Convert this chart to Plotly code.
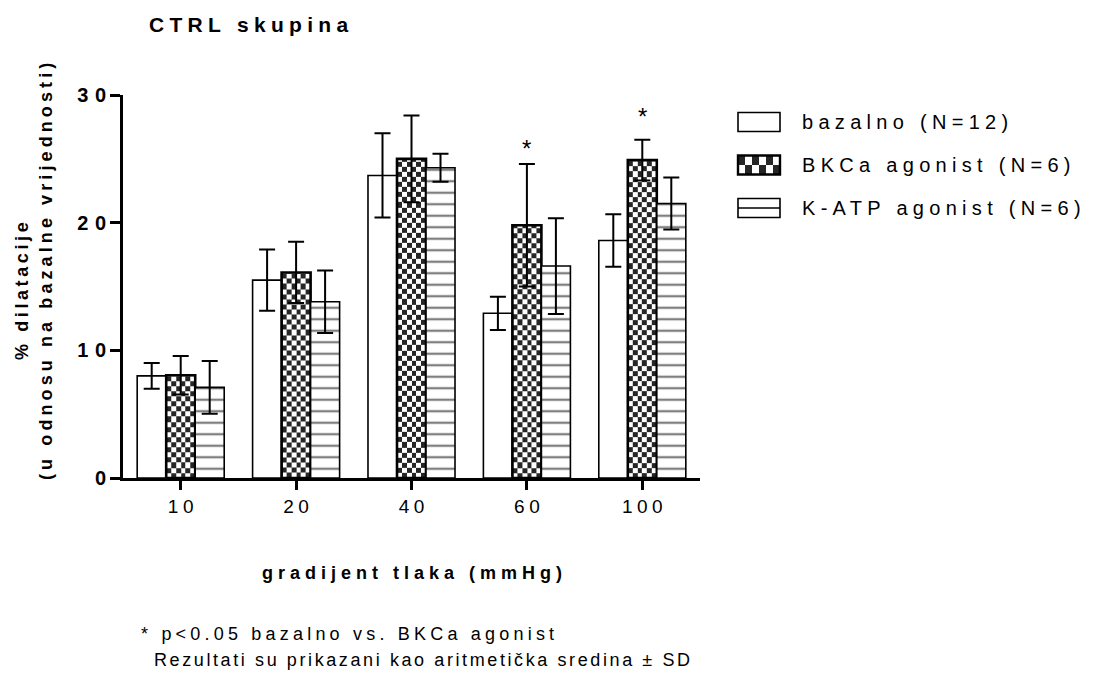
import numpy as np
import plotly.graph_objects as go

# ---------------- data ----------------
categories = ['10', '20', '40', '60', '100']
series_names = ['bazalno (N=12)', 'BKCa agonist (N=6)', 'K-ATP agonist (N=6)']
bazalno_mean = [8.0, 15.5, 23.7, 12.9, 18.6]
bazalno_sd = [1.0, 2.4, 3.3, 1.3, 2.05]
bkca_mean = [8.05, 16.1, 25.0, 19.8, 24.9]
bkca_sd = [1.5, 2.4, 3.4, 4.8, 1.6]
katp_mean = [7.1, 13.8, 24.3, 16.6, 21.5]
katp_sd = [2.07, 2.45, 1.1, 3.75, 2.03]
star_y = [None, None, None, 26.1, 28.6]
y_ticks = [0, 10, 20, 30]

title_text = 'CTRL skupina'
x_title = 'gradijent tlaka (mmHg)'
y_title_1 = '% dilatacije'
y_title_2 = '(u odnosu na bazalne vrijednosti)'
note_1 = ['* p', '&lt;', '0.05 bazalno vs. BKCa agonist']
note_2 = 'Rezultati su prikazani kao aritmetička sredina ± SD'

# ---------------- layout constants (reference page pixels) ----------------
FIG_W, FIG_H = 1094, 673
OFF = 8  # page body margin
L, R, T, B = 123, 700, 95, 478
W, H = R - L, B - T
FONT = 'Liberation Sans, Arial, sans-serif'
BARGAP = 0.246
BW = (1 - BARGAP) / 3  # bar width in axis units
DARK = '#262626'


def sp(text, ls):
    """letter-spaced text, no trailing space after the last glyph"""
    if isinstance(text, list):
        body = ''.join(text[:-1]) + text[-1][:-1]
        last = text[-1][-1]
    else:
        body, last = text[:-1], text[-1]
    return f'<span style="letter-spacing:{ls}px">{body}</span>{last}'


def px2x(px):
    return (px - L) / W


def py2y(py):
    return (B - py) / H


xpos = list(range(len(categories)))

fig = go.Figure()

# checkerboard fill for the BKCa bars (drawn beneath the outlined bars)
cell_y = 0.4
for i, m in enumerate(bkca_mean):
    xe = np.linspace(xpos[i] - BW / 2, xpos[i] + BW / 2, 7)
    ye = list(np.arange(0, m, cell_y))
    if ye[-1] < m:
        ye.append(m)
    nr = len(ye) - 1
    z = [[(r + c) % 2 for c in range(6)] for r in range(nr)]
    fig.add_trace(go.Heatmap(x=xe, y=ye, z=z, zmin=0, zmax=1,
                             colorscale=[[0, 'white'], [1, DARK]],
                             showscale=False, hoverinfo='skip'))

err = dict(type='data', symmetric=True, color='black', thickness=2, width=8)

fig.add_trace(go.Bar(x=xpos, y=bazalno_mean, name=series_names[0],
                     marker=dict(color='white', line=dict(color='black', width=1.6)),
                     error_y=dict(array=bazalno_sd, **err)))
fig.add_trace(go.Bar(x=xpos, y=bkca_mean, name=series_names[1],
                     marker=dict(color='rgba(0,0,0,0)', line=dict(color='black', width=2.6)),
                     error_y=dict(array=bkca_sd, **err)))
fig.add_trace(go.Bar(x=xpos, y=katp_mean, name=series_names[2],
                     marker=dict(color='white', line=dict(color='black', width=1.6),
                                 pattern=dict(shape='-', fgcolor='black', bgcolor='white',
                                              size=11.5, solidity=0.2, fillmode='overlay')),
                     error_y=dict(array=katp_sd, **err)))

annotations = []
# significance stars
for i, s in enumerate(star_y):
    if s is not None:
        annotations.append(dict(text='*', x=xpos[i], y=s, xref='x', yref='y', showarrow=False,
                                yanchor='middle', yshift=-4,
                                font=dict(family=FONT, size=24, color='black')))


def ann(text, px, py, size, bold=False, ls=0, xanchor='left', angle=0):
    return dict(text=sp(text, ls), x=px2x(px), y=py2y(py), xref='paper', yref='paper',
                xanchor=xanchor, yanchor='middle', showarrow=False, textangle=angle,
                font=dict(family=FONT, size=size, color='black',
                          weight='bold' if bold else 'normal'))


annotations.append(ann(title_text, 147, 25, 21, bold=True, ls=5.3))
annotations.append(ann(x_title, (L + R) / 2, 573, 18, bold=True, ls=5, xanchor='center'))
annotations.append(ann(y_title_1, 22, 291, 18, bold=True, ls=3.6, xanchor='center', angle=-90))
annotations.append(ann(y_title_2, 46, 272, 18, bold=True, ls=4.1, xanchor='center', angle=-90))
annotations.append(ann(note_1, 139, 634, 18, ls=4.2))
annotations.append(ann(note_2, 152, 660, 18, ls=2.6))

# manual legend
shapes = []
lg_x0, lg_x1 = 738, 780
lg_cy = [122, 165, 208]
lg_hh = 9.5
for k, name in enumerate(series_names):
    annotations.append(ann(name, 800, lg_cy[k], 20, ls=5.3))
    y0, y1 = py2y(lg_cy[k] + lg_hh), py2y(lg_cy[k] - lg_hh)
    if k == 1:
        ncol, nrow = 6, 2
        cw = (lg_x1 - lg_x0) / ncol
        ch = 2 * lg_hh / nrow
        for r in range(nrow):
            for c in range(ncol):
                if (r + c) % 2 == 0:
                    shapes.append(dict(type='rect', xref='paper', yref='paper',
                                       x0=px2x(lg_x0 + c * cw), x1=px2x(lg_x0 + (c + 1) * cw),
                                       y0=py2y(lg_cy[k] - lg_hh + (r + 1) * ch),
                                       y1=py2y(lg_cy[k] - lg_hh + r * ch),
                                       fillcolor=DARK, line=dict(width=0), layer='above'))
        shapes.append(dict(type='rect', xref='paper', yref='paper', x0=px2x(lg_x0), x1=px2x(lg_x1),
                           y0=y0, y1=y1, fillcolor='rgba(0,0,0,0)',
                           line=dict(color='black', width=2.4), layer='above'))
    else:
        shapes.append(dict(type='rect', xref='paper', yref='paper', x0=px2x(lg_x0), x1=px2x(lg_x1),
                           y0=y0, y1=y1, fillcolor='white',
                           line=dict(color='black', width=1.6), layer='above'))
        if k == 2:
            shapes.append(dict(type='line', xref='paper', yref='paper', x0=px2x(lg_x0), x1=px2x(lg_x1),
                               y0=py2y(lg_cy[k]), y1=py2y(lg_cy[k]),
                               line=dict(color='black', width=1.6), layer='above'))

fig.update_layout(
    width=FIG_W, height=FIG_H,
    margin=dict(l=L - OFF, r=FIG_W - (R - OFF), t=T - OFF, b=FIG_H - (B - OFF), pad=0),
    paper_bgcolor='white', plot_bgcolor='white',
    barmode='group', bargap=BARGAP, bargroupgap=0,
    showlegend=False,
    annotations=annotations, shapes=shapes,
    font=dict(family=FONT, color='black'),
    xaxis=dict(range=[-0.5, len(categories) - 0.5], tickvals=xpos,
               ticktext=[sp(c, 4.5) for c in categories],
               showline=True, linecolor='black', linewidth=3,
               ticks='outside', ticklen=9, tickwidth=3, tickcolor='black',
               showgrid=False, zeroline=False,
               tickfont=dict(family=FONT, size=19, color='black')),
    yaxis=dict(range=[0, 30], tickvals=y_ticks,
               ticktext=[sp(str(v), 6.5) for v in y_ticks],
               showline=True, linecolor='black', linewidth=3,
               ticks='outside', ticklen=10, tickwidth=3, tickcolor='black',
               showgrid=False, zeroline=False,
               tickfont=dict(family=FONT, size=20, color='black', weight='bold')),
)

fig.write_html('out.html')
